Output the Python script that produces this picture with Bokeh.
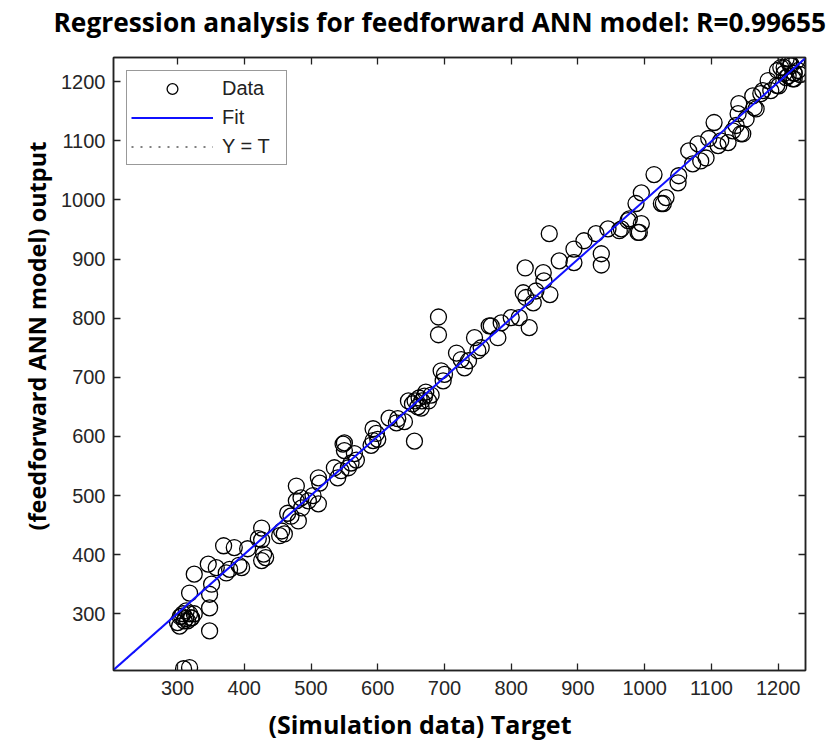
from bokeh.plotting import figure
from bokeh.models import LinearAxis, Range1d, FixedTicker, CustomJSTickFormatter, Legend, LegendItem, Title
from bokeh.embed import file_html
from bokeh.resources import INLINE

target = [309, 318, 303, 306, 313, 321, 325, 310, 300, 304, 308, 312, 315, 318, 320,
          318, 325, 348, 348, 348, 351, 346, 358, 373, 396, 426, 369, 385, 378, 392,
          405, 421, 426, 426, 429, 432, 453, 456, 460, 465, 470, 478, 478, 486, 496,
          481, 485, 511, 503, 511, 513, 535, 545, 556, 550, 550, 548, 565, 540, 560,
          568, 593, 593, 590, 598, 600, 617, 628, 630, 640, 646, 652, 656, 660, 662,
          666, 670, 676, 672, 680, 655, 665, 691, 691, 695, 698, 700, 718, 730, 725,
          736, 745, 750, 755, 767, 770, 780, 785, 800, 812, 827, 818, 822, 833, 837,
          848, 849, 858, 857, 821, 872, 894, 894, 909, 927, 945, 935, 935, 962, 977,
          992, 995, 987, 1025, 965, 975, 990, 995, 1014, 1028, 1032, 1050, 1051, 1066,
          1072, 1080, 1084, 1092, 1096, 1104, 1110, 1114, 1125, 1132, 1137, 1141, 1140,
          1147, 1152, 1167, 1162, 1174, 1185, 1189, 1201, 1199, 1209, 1215, 1219, 1224,
          1224, 1216, 1212, 1212, 1219, 1224, 1209, 1222, 1230, 1204, 1198, 1177, 1164,
          1144, 1233, 1228]
output = [207, 209, 279, 296, 305, 293, 300, 288, 285, 295, 300, 292, 288, 300, 293,
          335, 367, 271, 310, 333, 350, 384, 378, 369, 378, 390, 415, 412, 375, 382,
          410, 427, 425, 445, 401, 395, 432, 440, 435, 470, 465, 516, 491, 479, 491,
          457, 496, 486, 500, 530, 521, 547, 542, 547, 589, 576, 587, 571, 530, 555,
          560, 613, 593, 585, 605, 595, 631, 623, 630, 625, 660, 655, 660, 650, 665,
          660, 668, 660, 675, 670, 592, 648, 802, 772, 711, 694, 705, 741, 716, 730,
          728, 767, 745, 750, 787, 787, 767, 792, 801, 801, 784, 843, 835, 826, 846,
          877, 863, 840, 943, 885, 897, 917, 894, 931, 943, 951, 909, 890, 948, 968,
          945, 960, 994, 994, 951, 965, 945, 1012, 1043, 994, 1004, 1029, 1041, 1083,
          1061, 1095, 1066, 1071, 1104, 1131, 1092, 1100, 1097, 1117, 1126, 1163, 1146,
          1112, 1137, 1154, 1176, 1180, 1202, 1185, 1193, 1219, 1224, 1210, 1230, 1215,
          1205, 1232, 1207, 1239, 1227, 1214, 1214, 1205, 1219, 1224, 1194, 1185, 1156,
          1112, 1212, 1236]

fit_x = [204, 1241]
fit_y = [205, 1240]
ident_x = [204, 1241]
ident_y = [204, 1241]
tick_values = [300, 400, 500, 600, 700, 800, 900, 1000, 1100, 1200]
title_text = "Regression analysis for feedforward ANN model: R=0.99655"

p = figure(width=831, height=750, output_backend="svg", toolbar_location=None,
           x_range=Range1d(204, 1241), y_range=Range1d(204, 1241),
           min_border_left=113, min_border_right=26, min_border_top=57, min_border_bottom=80)
p.xgrid.visible = False
p.ygrid.visible = False
p.outline_line_color = "#222222"
p.outline_line_width = 1.5

r_data = p.scatter(target, output, size=16, marker="circle", fill_color=None,
                   line_color="black", line_width=1.3)
r_ident = p.line(ident_x, ident_y, line_color="black", line_width=1, line_dash="2 7")
r_fit = p.line(fit_x, fit_y, line_color="#1010ff", line_width=2)

for ax in (p.xaxis[0], p.yaxis[0]):
    ax.ticker = FixedTicker(ticks=tick_values)
    ax.major_tick_in = 7
    ax.major_tick_out = 0
    ax.minor_tick_line_color = None
    ax.axis_line_color = "#222222"
    ax.axis_line_width = 1.5
    ax.major_tick_line_color = "#222222"
    ax.major_tick_line_width = 1.3
    ax.major_label_text_font = "Liberation Sans"
    ax.major_label_text_font_size = "20px"
    ax.major_label_text_color = "#262626"

p.xaxis[0].major_label_standoff = 10
p.yaxis[0].major_label_standoff = 8

for side in ("right", "above"):
    ax = LinearAxis(ticker=FixedTicker(ticks=tick_values),
                    formatter=CustomJSTickFormatter(code="return ''"))
    ax.major_tick_in = 7
    ax.major_tick_out = 0
    ax.minor_tick_line_color = None
    ax.axis_line_color = "#222222"
    ax.axis_line_width = 1.5
    ax.major_tick_line_color = "#222222"
    ax.major_tick_line_width = 1.3
    ax.major_label_text_font_size = "1px"
    ax.major_label_standoff = 0
    p.add_layout(ax, side)

# invisible spacer axis between the frame and the title
spacer = LinearAxis(ticker=FixedTicker(ticks=tick_values),
                    formatter=CustomJSTickFormatter(code="return ''"))
spacer.major_tick_in = 0
spacer.major_tick_out = 18
spacer.major_tick_line_color = None
spacer.minor_tick_line_color = None
spacer.axis_line_color = None
spacer.major_label_text_font_size = "1px"
spacer.major_label_standoff = 0
p.add_layout(spacer, "above")

title = Title(text=title_text, align="left", offset=-60, standoff=0,
              text_font="Open Sans", text_font_style="bold", text_font_size="26.3px",
              text_color="black")
p.add_layout(title, "above")

xlab = Title(text="(Simulation data) Target", align="left", offset=155,
             text_font="Open Sans", text_font_style="bold", text_font_size="25px",
             text_color="black", standoff=14)
p.add_layout(xlab, "below")
ylab = Title(text="(feedforward ANN model) output", align="left", offset=140,
             text_font="Open Sans", text_font_style="bold", text_font_size="23.5px",
             text_color="black", standoff=12)
p.add_layout(ylab, "left")

legend = Legend(items=[LegendItem(label="Data", renderers=[r_data]),
                       LegendItem(label="Fit", renderers=[r_fit]),
                       LegendItem(label="Y = T", renderers=[r_ident])],
                location="top_left")
legend.margin = 13
legend.padding = 4
legend.spacing = 2
legend.glyph_width = 82
legend.glyph_height = 27
legend.label_height = 27
legend.label_width = 60
legend.label_standoff = 9
legend.label_text_font = "Liberation Sans"
legend.label_text_font_size = "20px"
legend.label_text_color = "#222222"
legend.border_line_color = "#333333"
legend.border_line_width = 1.5
legend.background_fill_alpha = 1
p.add_layout(legend)

open("out.html", "w").write(file_html(p, INLINE))
